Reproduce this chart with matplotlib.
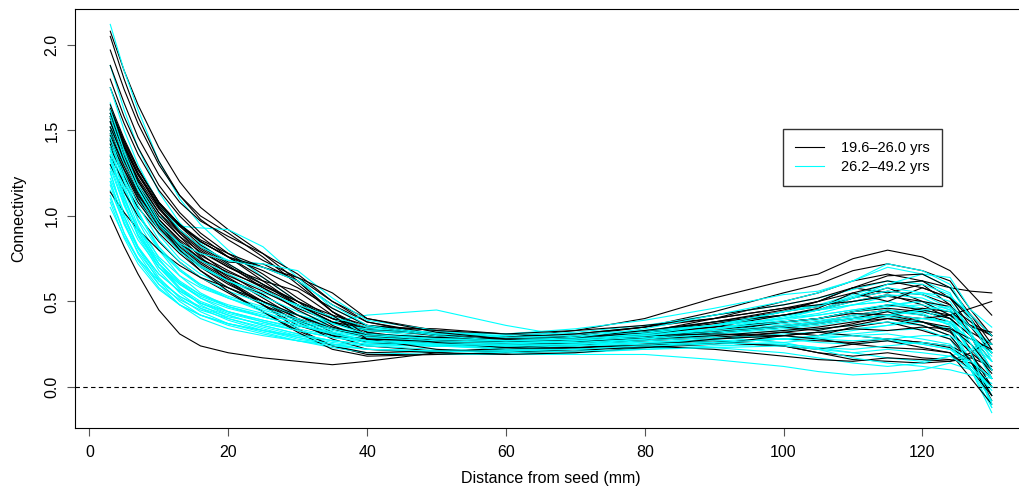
"""
Connectivity profiles vs distance from seed, two age groups
"""

import numpy as np
import matplotlib
matplotlib.use("Agg")
import matplotlib.pyplot as plt

plt.rcParams['font.family'] = ['Liberation Sans', 'DejaVu Sans']

# DATA
distance = [3, 5, 7, 10, 13, 16, 20, 25, 30, 35, 40, 50, 60, 70, 80, 90,
            100, 105, 110, 115, 120, 124, 127, 130]

young = [
    [2.08, 1.85, 1.65, 1.40, 1.20, 1.05, 0.92, 0.78, 0.62, 0.48, 0.38, 0.30, 0.27, 0.28, 0.32, 0.38, 0.44, 0.47, 0.52, 0.56, 0.54, 0.48, 0.30, 0.05],
    [2.05, 1.80, 1.58, 1.32, 1.12, 0.98, 0.86, 0.74, 0.64, 0.50, 0.40, 0.33, 0.29, 0.27, 0.28, 0.32, 0.36, 0.38, 0.42, 0.45, 0.42, 0.38, 0.22, 0.08],
    [1.97, 1.74, 1.54, 1.30, 1.12, 1.00, 0.90, 0.76, 0.60, 0.44, 0.34, 0.30, 0.25, 0.26, 0.32, 0.40, 0.50, 0.55, 0.62, 0.66, 0.62, 0.52, 0.35, 0.20],
    [1.88, 1.66, 1.46, 1.24, 1.08, 0.97, 0.88, 0.78, 0.66, 0.50, 0.38, 0.31, 0.26, 0.26, 0.30, 0.36, 0.44, 0.50, 0.58, 0.55, 0.60, 0.48, 0.30, 0.10],
    [1.80, 1.58, 1.40, 1.18, 1.02, 0.90, 0.78, 0.66, 0.52, 0.40, 0.34, 0.31, 0.29, 0.31, 0.35, 0.44, 0.55, 0.60, 0.68, 0.72, 0.68, 0.62, 0.45, 0.30],
    [1.75, 1.54, 1.36, 1.15, 1.00, 0.88, 0.76, 0.62, 0.48, 0.38, 0.34, 0.31, 0.29, 0.33, 0.40, 0.52, 0.62, 0.66, 0.75, 0.80, 0.76, 0.68, 0.55, 0.42],
    [1.65, 1.45, 1.28, 1.08, 0.94, 0.83, 0.73, 0.72, 0.62, 0.44, 0.32, 0.25, 0.22, 0.24, 0.28, 0.32, 0.38, 0.40, 0.44, 0.46, 0.44, 0.40, 0.30, 0.15],
    [1.62, 1.42, 1.25, 1.05, 0.90, 0.78, 0.66, 0.54, 0.42, 0.34, 0.29, 0.26, 0.24, 0.23, 0.25, 0.28, 0.32, 0.30, 0.35, 0.38, 0.33, 0.28, 0.15, -0.05],
    [1.60, 1.40, 1.24, 1.05, 0.92, 0.82, 0.72, 0.60, 0.48, 0.38, 0.33, 0.31, 0.28, 0.30, 0.35, 0.42, 0.48, 0.52, 0.58, 0.62, 0.58, 0.52, 0.42, 0.30],
    [1.58, 1.38, 1.21, 1.02, 0.88, 0.76, 0.62, 0.48, 0.34, 0.24, 0.19, 0.19, 0.20, 0.22, 0.24, 0.26, 0.28, 0.27, 0.26, 0.28, 0.26, 0.24, 0.18, 0.05],
    [1.55, 1.36, 1.20, 1.02, 0.90, 0.80, 0.70, 0.60, 0.50, 0.40, 0.32, 0.27, 0.26, 0.28, 0.32, 0.37, 0.42, 0.45, 0.50, 0.54, 0.48, 0.40, 0.30, 0.20],
    [1.52, 1.33, 1.17, 0.98, 0.85, 0.75, 0.64, 0.52, 0.40, 0.30, 0.24, 0.21, 0.21, 0.23, 0.25, 0.27, 0.24, 0.20, 0.18, 0.20, 0.17, 0.16, 0.14, 0.05],
    [1.50, 1.32, 1.16, 0.98, 0.86, 0.77, 0.68, 0.58, 0.48, 0.40, 0.35, 0.34, 0.31, 0.29, 0.31, 0.35, 0.42, 0.45, 0.52, 0.58, 0.50, 0.42, 0.32, 0.25],
    [1.48, 1.30, 1.14, 0.96, 0.83, 0.73, 0.63, 0.54, 0.42, 0.32, 0.26, 0.24, 0.24, 0.26, 0.29, 0.32, 0.35, 0.38, 0.40, 0.44, 0.38, 0.32, 0.20, 0.10],
    [1.45, 1.27, 1.11, 0.94, 0.82, 0.72, 0.62, 0.50, 0.38, 0.28, 0.22, 0.20, 0.19, 0.20, 0.23, 0.26, 0.24, 0.20, 0.16, 0.15, 0.14, 0.15, 0.20, 0.28],
    [1.42, 1.25, 1.10, 0.93, 0.81, 0.71, 0.61, 0.48, 0.36, 0.30, 0.28, 0.27, 0.26, 0.28, 0.32, 0.38, 0.45, 0.50, 0.55, 0.60, 0.62, 0.58, 0.56, 0.55],
    [1.40, 1.23, 1.08, 0.92, 0.80, 0.70, 0.60, 0.50, 0.40, 0.34, 0.31, 0.29, 0.28, 0.29, 0.32, 0.35, 0.38, 0.40, 0.44, 0.48, 0.45, 0.42, 0.36, 0.30],
    [1.35, 1.19, 1.05, 0.90, 0.78, 0.68, 0.58, 0.48, 0.39, 0.31, 0.27, 0.26, 0.25, 0.25, 0.27, 0.29, 0.32, 0.34, 0.36, 0.40, 0.36, 0.30, 0.15, -0.08],
    [1.30, 1.14, 1.00, 0.85, 0.73, 0.64, 0.55, 0.44, 0.33, 0.24, 0.20, 0.21, 0.22, 0.23, 0.24, 0.22, 0.18, 0.16, 0.15, 0.17, 0.16, 0.15, 0.17, 0.12],
    [1.14, 1.02, 0.92, 0.80, 0.71, 0.64, 0.58, 0.50, 0.42, 0.34, 0.29, 0.27, 0.26, 0.27, 0.29, 0.32, 0.35, 0.37, 0.40, 0.42, 0.38, 0.33, 0.20, 0.00],
    [1.00, 0.82, 0.66, 0.45, 0.31, 0.24, 0.20, 0.17, 0.15, 0.13, 0.15, 0.20, 0.23, 0.25, 0.28, 0.30, 0.33, 0.35, 0.38, 0.40, 0.38, 0.35, 0.25, 0.10],
    [1.62, 1.43, 1.27, 1.08, 0.95, 0.85, 0.76, 0.70, 0.62, 0.44, 0.30, 0.26, 0.27, 0.28, 0.30, 0.32, 0.35, 0.33, 0.37, 0.42, 0.40, 0.42, 0.46, 0.50],
    [1.58, 1.40, 1.24, 1.06, 0.94, 0.85, 0.76, 0.68, 0.58, 0.46, 0.36, 0.33, 0.31, 0.33, 0.36, 0.40, 0.46, 0.50, 0.58, 0.65, 0.66, 0.58, 0.42, 0.25],
    [1.55, 1.35, 1.17, 0.96, 0.80, 0.68, 0.56, 0.44, 0.32, 0.22, 0.18, 0.19, 0.20, 0.22, 0.24, 0.26, 0.24, 0.22, 0.25, 0.27, 0.23, 0.20, 0.05, -0.10],
    [1.63, 1.44, 1.27, 1.08, 0.95, 0.85, 0.76, 0.64, 0.50, 0.36, 0.28, 0.27, 0.29, 0.31, 0.35, 0.40, 0.46, 0.48, 0.50, 0.53, 0.50, 0.47, 0.38, 0.30],
    [1.47, 1.29, 1.13, 0.95, 0.83, 0.74, 0.65, 0.56, 0.46, 0.38, 0.31, 0.26, 0.23, 0.22, 0.23, 0.25, 0.30, 0.32, 0.30, 0.28, 0.26, 0.23, 0.15, 0.00],
    [1.60, 1.41, 1.25, 1.07, 0.95, 0.86, 0.78, 0.70, 0.64, 0.55, 0.40, 0.32, 0.28, 0.27, 0.29, 0.33, 0.38, 0.40, 0.43, 0.42, 0.46, 0.44, 0.35, 0.32],
    [1.52, 1.34, 1.18, 1.00, 0.88, 0.79, 0.70, 0.62, 0.56, 0.42, 0.28, 0.22, 0.20, 0.21, 0.24, 0.28, 0.30, 0.28, 0.25, 0.23, 0.22, 0.20, 0.10, -0.05],
    [1.57, 1.38, 1.22, 1.04, 0.91, 0.81, 0.71, 0.58, 0.45, 0.35, 0.30, 0.28, 0.27, 0.29, 0.33, 0.38, 0.42, 0.46, 0.55, 0.50, 0.58, 0.52, 0.40, 0.22],
    [1.44, 1.27, 1.12, 0.96, 0.84, 0.75, 0.67, 0.59, 0.50, 0.42, 0.36, 0.30, 0.27, 0.28, 0.30, 0.31, 0.30, 0.32, 0.34, 0.33, 0.35, 0.34, 0.28, 0.22],
]

old = [
    [2.12, 1.85, 1.62, 1.32, 1.10, 0.95, 0.80, 0.64, 0.50, 0.40, 0.33, 0.29, 0.27, 0.28, 0.31, 0.36, 0.44, 0.48, 0.54, 0.60, 0.62, 0.55, 0.30, 0.05],
    [1.88, 1.62, 1.40, 1.14, 0.96, 0.84, 0.72, 0.60, 0.48, 0.38, 0.31, 0.28, 0.27, 0.29, 0.33, 0.38, 0.42, 0.45, 0.48, 0.50, 0.46, 0.40, 0.20, -0.05],
    [1.66, 1.40, 1.20, 1.00, 0.94, 0.93, 0.92, 0.82, 0.64, 0.46, 0.36, 0.31, 0.28, 0.29, 0.31, 0.34, 0.37, 0.39, 0.41, 0.44, 0.42, 0.36, 0.15, -0.10],
    [1.55, 1.30, 1.10, 0.89, 0.75, 0.66, 0.58, 0.50, 0.42, 0.35, 0.31, 0.29, 0.27, 0.28, 0.31, 0.34, 0.39, 0.42, 0.45, 0.48, 0.50, 0.42, 0.20, -0.12],
    [1.50, 1.24, 1.03, 0.80, 0.65, 0.55, 0.47, 0.41, 0.36, 0.31, 0.28, 0.26, 0.25, 0.27, 0.29, 0.32, 0.35, 0.37, 0.40, 0.42, 0.44, 0.40, 0.25, 0.10],
    [1.45, 1.18, 0.97, 0.75, 0.61, 0.52, 0.44, 0.38, 0.33, 0.29, 0.26, 0.24, 0.23, 0.24, 0.26, 0.28, 0.31, 0.32, 0.34, 0.36, 0.38, 0.33, 0.15, -0.05],
    [1.42, 1.15, 0.94, 0.72, 0.58, 0.48, 0.40, 0.34, 0.29, 0.25, 0.22, 0.21, 0.21, 0.22, 0.24, 0.26, 0.28, 0.30, 0.31, 0.33, 0.34, 0.28, 0.10, -0.15],
    [1.38, 1.16, 0.98, 0.80, 0.68, 0.60, 0.53, 0.47, 0.42, 0.37, 0.33, 0.31, 0.30, 0.32, 0.36, 0.42, 0.48, 0.52, 0.57, 0.62, 0.60, 0.54, 0.38, 0.20],
    [1.35, 1.08, 0.88, 0.68, 0.55, 0.46, 0.39, 0.33, 0.28, 0.25, 0.22, 0.20, 0.19, 0.19, 0.19, 0.16, 0.12, 0.09, 0.07, 0.08, 0.10, 0.14, 0.10, 0.02],
    [1.30, 1.07, 0.89, 0.70, 0.58, 0.50, 0.44, 0.39, 0.34, 0.30, 0.27, 0.25, 0.24, 0.25, 0.27, 0.30, 0.33, 0.34, 0.36, 0.38, 0.36, 0.30, 0.15, 0.00],
    [1.25, 1.00, 0.82, 0.64, 0.52, 0.44, 0.37, 0.32, 0.27, 0.23, 0.20, 0.19, 0.19, 0.20, 0.22, 0.24, 0.25, 0.23, 0.20, 0.17, 0.15, 0.18, 0.22, 0.25],
    [1.22, 1.02, 0.86, 0.70, 0.60, 0.53, 0.47, 0.42, 0.38, 0.34, 0.31, 0.29, 0.28, 0.29, 0.32, 0.36, 0.42, 0.45, 0.48, 0.50, 0.45, 0.38, 0.20, 0.00],
    [1.20, 0.96, 0.78, 0.60, 0.48, 0.40, 0.34, 0.30, 0.27, 0.25, 0.24, 0.24, 0.24, 0.26, 0.28, 0.30, 0.28, 0.26, 0.25, 0.27, 0.25, 0.22, 0.12, -0.02],
    [1.15, 0.96, 0.81, 0.66, 0.56, 0.49, 0.44, 0.39, 0.35, 0.38, 0.42, 0.45, 0.36, 0.29, 0.31, 0.36, 0.44, 0.48, 0.52, 0.56, 0.54, 0.46, 0.30, 0.10],
    [1.10, 0.90, 0.75, 0.60, 0.51, 0.45, 0.40, 0.35, 0.30, 0.26, 0.24, 0.22, 0.21, 0.22, 0.23, 0.23, 0.20, 0.17, 0.14, 0.12, 0.14, 0.18, 0.15, 0.05],
    [1.05, 0.88, 0.75, 0.62, 0.53, 0.47, 0.42, 0.36, 0.31, 0.27, 0.25, 0.24, 0.23, 0.25, 0.28, 0.31, 0.34, 0.36, 0.39, 0.41, 0.38, 0.34, 0.25, 0.15],
    [1.75, 1.50, 1.30, 1.07, 0.92, 0.82, 0.74, 0.72, 0.68, 0.52, 0.39, 0.33, 0.29, 0.28, 0.30, 0.34, 0.40, 0.45, 0.52, 0.60, 0.66, 0.64, 0.45, 0.35],
    [1.60, 1.36, 1.16, 0.95, 0.81, 0.71, 0.62, 0.53, 0.44, 0.37, 0.33, 0.31, 0.31, 0.34, 0.39, 0.46, 0.54, 0.56, 0.62, 0.70, 0.66, 0.58, 0.40, 0.20],
    [1.48, 1.25, 1.06, 0.86, 0.73, 0.64, 0.56, 0.49, 0.42, 0.37, 0.34, 0.32, 0.31, 0.31, 0.33, 0.36, 0.40, 0.42, 0.45, 0.48, 0.50, 0.45, 0.30, 0.15],
    [1.40, 1.12, 0.91, 0.70, 0.57, 0.49, 0.42, 0.36, 0.31, 0.27, 0.25, 0.24, 0.23, 0.24, 0.26, 0.28, 0.30, 0.28, 0.27, 0.28, 0.30, 0.30, 0.22, 0.10],
    [1.33, 1.10, 0.92, 0.74, 0.62, 0.54, 0.47, 0.41, 0.36, 0.32, 0.29, 0.27, 0.26, 0.26, 0.28, 0.31, 0.35, 0.38, 0.42, 0.45, 0.43, 0.36, 0.10, -0.12],
    [1.28, 1.06, 0.89, 0.72, 0.61, 0.54, 0.48, 0.43, 0.38, 0.32, 0.27, 0.25, 0.24, 0.25, 0.28, 0.34, 0.41, 0.45, 0.50, 0.54, 0.52, 0.45, 0.25, 0.05],
    [1.18, 0.95, 0.79, 0.63, 0.53, 0.46, 0.41, 0.37, 0.33, 0.29, 0.27, 0.26, 0.25, 0.25, 0.26, 0.27, 0.28, 0.29, 0.30, 0.31, 0.28, 0.25, 0.12, 0.00],
    [1.12, 0.90, 0.74, 0.58, 0.48, 0.42, 0.37, 0.33, 0.30, 0.27, 0.25, 0.24, 0.24, 0.25, 0.27, 0.29, 0.26, 0.22, 0.17, 0.14, 0.12, 0.10, 0.07, 0.05],
    [1.52, 1.30, 1.12, 0.92, 0.79, 0.70, 0.62, 0.55, 0.48, 0.41, 0.35, 0.31, 0.29, 0.30, 0.32, 0.36, 0.40, 0.43, 0.48, 0.53, 0.55, 0.53, 0.42, 0.30],
    [1.36, 1.10, 0.91, 0.72, 0.60, 0.52, 0.46, 0.41, 0.36, 0.31, 0.27, 0.24, 0.22, 0.22, 0.24, 0.26, 0.28, 0.30, 0.33, 0.36, 0.40, 0.38, 0.20, -0.10],
    [1.44, 1.20, 1.01, 0.81, 0.68, 0.59, 0.52, 0.45, 0.39, 0.33, 0.29, 0.27, 0.26, 0.27, 0.29, 0.32, 0.35, 0.37, 0.40, 0.42, 0.45, 0.47, 0.35, 0.25],
    [1.26, 1.00, 0.81, 0.62, 0.50, 0.42, 0.36, 0.31, 0.27, 0.24, 0.22, 0.21, 0.20, 0.21, 0.22, 0.23, 0.24, 0.22, 0.20, 0.22, 0.20, 0.18, 0.10, 0.00],
    [1.62, 1.38, 1.18, 0.97, 0.83, 0.74, 0.66, 0.57, 0.47, 0.37, 0.31, 0.28, 0.27, 0.29, 0.34, 0.42, 0.50, 0.55, 0.62, 0.72, 0.68, 0.60, 0.40, 0.15],
    [1.08, 0.87, 0.72, 0.57, 0.48, 0.42, 0.37, 0.33, 0.29, 0.25, 0.22, 0.21, 0.21, 0.22, 0.24, 0.25, 0.26, 0.28, 0.30, 0.28, 0.25, 0.22, 0.15, 0.05],
    [1.58, 1.34, 1.15, 0.95, 0.84, 0.78, 0.74, 0.70, 0.62, 0.48, 0.36, 0.30, 0.27, 0.28, 0.31, 0.36, 0.44, 0.47, 0.53, 0.58, 0.55, 0.50, 0.32, 0.10],
    [1.20, 0.98, 0.82, 0.66, 0.56, 0.49, 0.43, 0.38, 0.33, 0.29, 0.26, 0.25, 0.25, 0.27, 0.30, 0.34, 0.38, 0.40, 0.44, 0.47, 0.48, 0.44, 0.30, 0.18],
    [1.46, 1.22, 1.02, 0.82, 0.69, 0.60, 0.52, 0.44, 0.37, 0.31, 0.27, 0.25, 0.24, 0.24, 0.25, 0.26, 0.25, 0.23, 0.22, 0.24, 0.26, 0.24, 0.10, -0.08],
    [1.32, 1.10, 0.93, 0.76, 0.65, 0.58, 0.52, 0.46, 0.40, 0.34, 0.30, 0.28, 0.27, 0.28, 0.30, 0.33, 0.36, 0.38, 0.40, 0.42, 0.40, 0.37, 0.28, 0.20],
]

group_labels = ["19.6\u201326.0 yrs", "26.2\u201349.2 yrs"]
group_colors = ["black", "cyan"]


# VIEW
fig = plt.figure(figsize=(10.2, 4.96), dpi=100)
ax = fig.add_axes([75 / 1020, 68 / 496, 952 / 1020, 419 / 496])

n = max(len(young), len(old))
for i in range(n):
    if i < len(young):
        ax.plot(distance, young[i], color=group_colors[0], lw=0.8)
    if i < len(old):
        ax.plot(distance, old[i], color=group_colors[1], lw=0.8)

ax.axhline(0, color="black", lw=0.8, linestyle=(0, (4, 3)))

ax.set_xlim(-2.08, 135.08)
ax.set_ylim(-0.24, 2.21)
ax.set_xticks([0, 20, 40, 60, 80, 100, 120])
ax.set_yticks([0.0, 0.5, 1.0, 1.5, 2.0])
ax.set_yticklabels(["0.0", "0.5", "1.0", "1.5", "2.0"], rotation=90, va="center")
ax.tick_params(axis="both", direction="out", length=6, width=0.8, color="#555555",
               labelsize=11.5)
ax.tick_params(axis="x", pad=6)
ax.tick_params(axis="y", pad=5)
ax.set_xlabel("Distance from seed (mm)", fontsize=11.5, labelpad=8)
ax.set_ylabel("Connectivity", fontsize=11.5, labelpad=13)

handles = [plt.Line2D([], [], color=c, lw=0.8) for c in group_colors]
ax.legend(handles, group_labels, loc="upper left",
          bbox_to_anchor=(783 / 1020, 1 - 129 / 496), bbox_transform=fig.transFigure,
          fontsize=10.5, frameon=True, fancybox=False, edgecolor="black",
          handlelength=2.0, handletextpad=1.2, borderpad=0.8, labelspacing=0.4,
          borderaxespad=0)

fig.savefig("out.png", dpi=100)
